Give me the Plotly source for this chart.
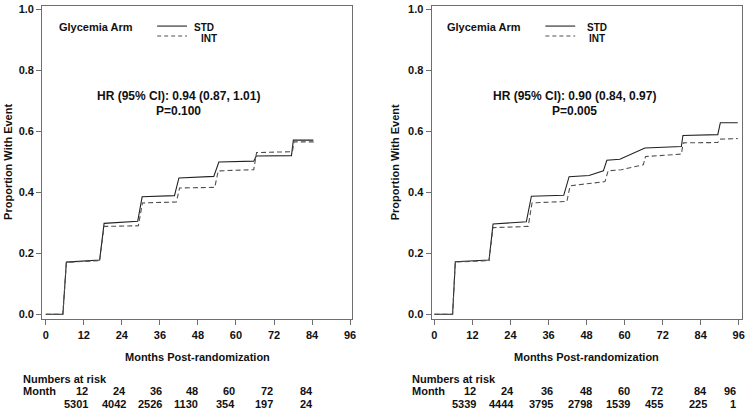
import plotly.graph_objects as go

# ---------------- data ----------------
x_ticks = [0, 12, 24, 36, 48, 60, 72, 84, 96]
y_ticks = [0.0, 0.2, 0.4, 0.6, 0.8, 1.0]

left_std_t = [0, 5.4, 6.5, 17.0, 18.4, 29.0, 30.4, 40.6, 42.0, 53.0, 54.6, 65.6, 66.4, 77.5, 78.1, 84.4]
left_std_y = [0, 0, 0.171, 0.178, 0.298, 0.305, 0.385, 0.389, 0.447, 0.452, 0.499, 0.502, 0.519, 0.520, 0.571, 0.571]
left_int_t = [0, 5.4, 6.5, 17.0, 18.4, 29.2, 30.5, 41.2, 42.2, 53.3, 54.4, 65.6, 66.5, 77.8, 78.3, 85.0]
left_int_y = [0, 0, 0.170, 0.176, 0.288, 0.290, 0.365, 0.368, 0.414, 0.416, 0.470, 0.474, 0.530, 0.533, 0.565, 0.565]

right_std_t = [0, 5.75, 6.6, 17.25, 18.5, 29.0, 30.6, 40.8, 42.5, 48.8, 53.3, 54.4, 58.5, 61.2, 66.4, 77.9, 78.4, 89.4, 90.2, 95.7]
right_std_y = [0, 0, 0.172, 0.178, 0.296, 0.303, 0.387, 0.390, 0.451, 0.455, 0.470, 0.505, 0.508, 0.520, 0.545, 0.550, 0.586, 0.589, 0.628, 0.628]
right_int_t = [0, 5.75, 6.6, 17.25, 18.5, 29.6, 30.8, 41.8, 42.8, 53.8, 54.8, 59.0, 65.9, 66.6, 77.9, 78.5, 89.4, 90.0, 95.7]
right_int_y = [0, 0, 0.171, 0.176, 0.284, 0.288, 0.365, 0.370, 0.421, 0.435, 0.470, 0.474, 0.490, 0.517, 0.525, 0.562, 0.563, 0.574, 0.576]

left_hr = "HR (95% CI): 0.94 (0.87, 1.01)"
left_p = "P=0.100"
right_hr = "HR (95% CI): 0.90 (0.84, 0.97)"
right_p = "P=0.005"

left_risk_months = [12, 24, 36, 48, 60, 72, 84]
left_risk_n = [5301, 4042, 2526, 1130, 354, 197, 24]
right_risk_months = [12, 24, 36, 48, 60, 72, 84, 96]
right_risk_n = [5339, 4444, 3795, 2798, 1539, 455, 225, 1]

legend_title = "Glycemia Arm"
series_names = ["STD", "INT"]
x_title = "Months Post-randomization"
y_title = "Proportion With Event"

# ---------------- layout helpers ----------------
W, H = 750, 411
def px(x):
    return x / W
def py(y):
    return 1 - y / H

FONT = "Liberation Sans, Arial, sans-serif"
TXT = "#111111"
FRAME = "#6e6e6e"
STD_COLOR = "#222222"
INT_COLOR = "#505050"

fig = go.Figure()

panels = [
    dict(xa="x", ya="y", std=(left_std_t, left_std_y), int_=(left_int_t, left_int_y)),
    dict(xa="x2", ya="y2", std=(right_std_t, right_std_y), int_=(right_int_t, right_int_y)),
]
for p in panels:
    fig.add_trace(go.Scatter(x=p["std"][0], y=p["std"][1], mode="lines", xaxis=p["xa"], yaxis=p["ya"],
                             line=dict(color=STD_COLOR, width=1.1), showlegend=False, hoverinfo="skip"))
    fig.add_trace(go.Scatter(x=p["int_"][0], y=p["int_"][1], mode="lines", xaxis=p["xa"], yaxis=p["ya"],
                             line=dict(color=INT_COLOR, width=1.1, dash="5px,3px"), showlegend=False, hoverinfo="skip"))

tickfont = dict(family=FONT, size=11, color=TXT, weight="bold")
ydom = [py(319.3), py(2.7)]
common_x = dict(tickvals=x_ticks, ticks="outside", ticklen=5, tickcolor=FRAME, tickwidth=1.2,
                showline=True, mirror=True, linecolor=FRAME, linewidth=1.3, showgrid=False,
                zeroline=False, tickfont=tickfont)
common_y = dict(tickvals=y_ticks, tickformat=".1f", ticks="outside", ticklen=5, tickcolor=FRAME, tickwidth=1.2,
                showline=True, mirror=True, linecolor=FRAME, linewidth=1.3, showgrid=False,
                zeroline=False, tickfont=tickfont, range=[-0.0162, 1.0117], domain=ydom)

fig.update_layout(
    width=W, height=H, margin=dict(l=0, r=0, t=0, b=0),
    paper_bgcolor="white", plot_bgcolor="white", showlegend=False,
    xaxis=dict(domain=[px(42.5), px(354)], range=[-1.1, 96.63], anchor="y", **common_x),
    yaxis=dict(anchor="x", **common_y),
    xaxis2=dict(domain=[px(434), px(745.5)], range=[-0.85, 96.88], anchor="y2", **common_x),
    yaxis2=dict(anchor="x2", **common_y),
)

ann = []
def text(x, y, s, size=11, xanchor="center", angle=0):
    ann.append(dict(x=px(x), y=py(y), xref="paper", yref="paper", text=s, showarrow=False,
                    xanchor=xanchor, yanchor="middle", textangle=angle,
                    font=dict(family=FONT, size=size, color=TXT, weight="bold")))

shapes = []
def seg(x0, x1, y, dash):
    shapes.append(dict(type="line", xref="paper", yref="paper", x0=px(x0), x1=px(x1), y0=py(y), y1=py(y),
                       line=dict(color=STD_COLOR if dash == "solid" else INT_COLOR, width=1.1, dash=dash)))

# per-panel decorations
cfg = [
    dict(hr=left_hr, p=left_p, hrx=179, ytx=8, xtc=198.2, leg_x=57.3, line_x=(158, 188),
         std_x=193, int_x=200, months=left_risk_months, n=left_risk_n,
         cols=[90.7, 128.3, 164.5, 201, 238.3, 276, 316.5], lab_x=20.7),
    dict(hr=right_hr, p=right_p, hrx=577.5, ytx=397.5, xtc=589.7, leg_x=447.7, line_x=(548.3, 578.3),
         std_x=588.3, int_x=590, months=right_risk_months, n=right_risk_n,
         cols=[481, 519, 557.7, 596.7, 635, 668.5, 713.3, 741.5], lab_x=412.7),
]
for c in cfg:
    text(c["hrx"], 94, c["hr"], size=12)
    text(c["hrx"], 109.5, c["p"], size=12)
    text(c["ytx"], 160.5, y_title, size=11, angle=-90)
    text(c["xtc"], 357, x_title, size=11)
    text(c["leg_x"], 24, legend_title, size=11, xanchor="left")
    seg(c["line_x"][0], c["line_x"][1], 23.3, "solid")
    seg(c["line_x"][0], c["line_x"][1], 33.3, "4px,3px")
    text(c["std_x"], 25, series_names[0], size=10, xanchor="left")
    text(c["int_x"], 35.5, series_names[1], size=10, xanchor="left")
    text(c["lab_x"], 379.5, "Numbers at risk", size=11, xanchor="left")
    text(c["lab_x"], 391.5, "Month", size=11, xanchor="left")
    for cx, m, n in zip(c["cols"], c["months"], c["n"]):
        text(cx, 391.5, str(m), size=11, xanchor="right")
        text(cx, 404.5, str(n), size=11, xanchor="right")

fig.update_layout(annotations=ann, shapes=shapes)
fig.write_html("out.html", config={"displayModeBar": False},
               post_script="document.body.style.margin='0';document.body.style.overflow='hidden';")
